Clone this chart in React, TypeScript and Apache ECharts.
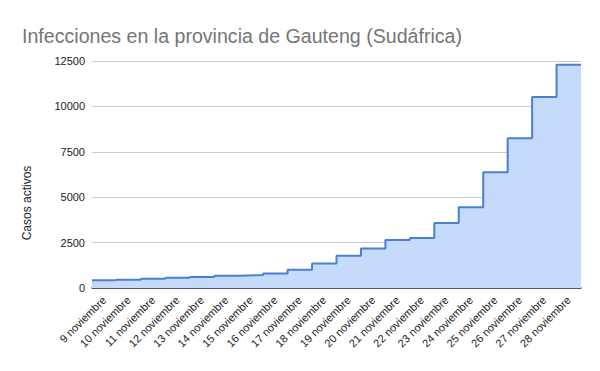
import React, { useEffect, useRef } from "react";
import * as echarts from "echarts";

const title = "Infecciones en la provincia de Gauteng (Sudáfrica)";
const yAxisTitle = "Casos activos";
const days = [
  "9 noviembre", "10 noviembre", "11 noviembre", "12 noviembre", "13 noviembre",
  "14 noviembre", "15 noviembre", "16 noviembre", "17 noviembre", "18 noviembre",
  "19 noviembre", "20 noviembre", "21 noviembre", "22 noviembre", "23 noviembre",
  "24 noviembre", "25 noviembre", "26 noviembre", "27 noviembre", "28 noviembre",
];
const activeCases = [
  420, 460, 510, 570, 610, 680, 715, 800, 1010, 1355,
  1780, 2180, 2640, 2750, 3580, 4440, 6370, 8240, 10520, 12300,
];
const yMin = 0;
const yMax = 12500;
const yStep = 2500;

export default function App() {
  const ref = useRef<HTMLDivElement>(null);
  useEffect(() => {
    document.body.style.margin = "0";
    if (!ref.current) return;
    const chart = echarts.init(ref.current, undefined, { renderer: "svg" });
    const stepData: [number, number][] = activeCases.map((v, i) => [i, v]);
    stepData.push([activeCases.length, activeCases[activeCases.length - 1]]);
    chart.setOption({
      animation: false,
      backgroundColor: "#ffffff",
      title: {
        text: title,
        left: 17,
        top: 21,
        textStyle: {
          fontFamily: "Arial, 'Liberation Sans', sans-serif",
          fontSize: 19.6,
          fontWeight: "normal",
          color: "#757575",
        },
      },
      grid: { left: 92, right: 19, top: 61, bottom: 83, containLabel: false },
      xAxis: [
        {
          type: "category",
          data: days,
          boundaryGap: true,
          axisLine: { show: true, lineStyle: { color: "#333333", width: 1.5 } },
          axisTick: { show: false },
          axisLabel: {
            rotate: 45,
            interval: 0,
            margin: 10,
            fontFamily: "Arial, 'Liberation Sans', sans-serif",
            fontSize: 11,
            color: "#222222",
          },
          splitLine: { show: false },
        },
        {
          type: "value",
          min: 0,
          max: activeCases.length,
          show: false,
          splitLine: { show: false },
        },
      ],
      yAxis: {
        type: "value",
        min: yMin,
        max: yMax,
        interval: yStep,
        axisLine: { show: false },
        axisTick: { show: false },
        axisLabel: {
          margin: 7,
          formatter: (v: number) => String(v),
          fontFamily: "Arial, 'Liberation Sans', sans-serif",
          fontSize: 11,
          color: "#222222",
        },
        splitLine: { lineStyle: { color: "#cccccc", width: 1 } },
      },
      graphic: [
        {
          type: "text",
          x: 27,
          y: 203,
          rotation: Math.PI / 2,
          style: {
            text: yAxisTitle,
            fontFamily: "Arial, 'Liberation Sans', sans-serif",
            fontSize: 12,
            fill: "#222222",
            align: "center",
            verticalAlign: "middle",
          },
        },
      ],
      series: [
        {
          type: "line",
          xAxisIndex: 1,
          data: stepData,
          step: "end",
          showSymbol: false,
          symbol: "none",
          lineStyle: { color: "#4a7fd6", width: 2 },
          areaStyle: { color: "#c6dafc", opacity: 1 },
          z: 1,
        },
      ],
    });
    return () => chart.dispose();
  }, []);
  return <div ref={ref} style={{ width: 600, height: 371 }} />;
}
